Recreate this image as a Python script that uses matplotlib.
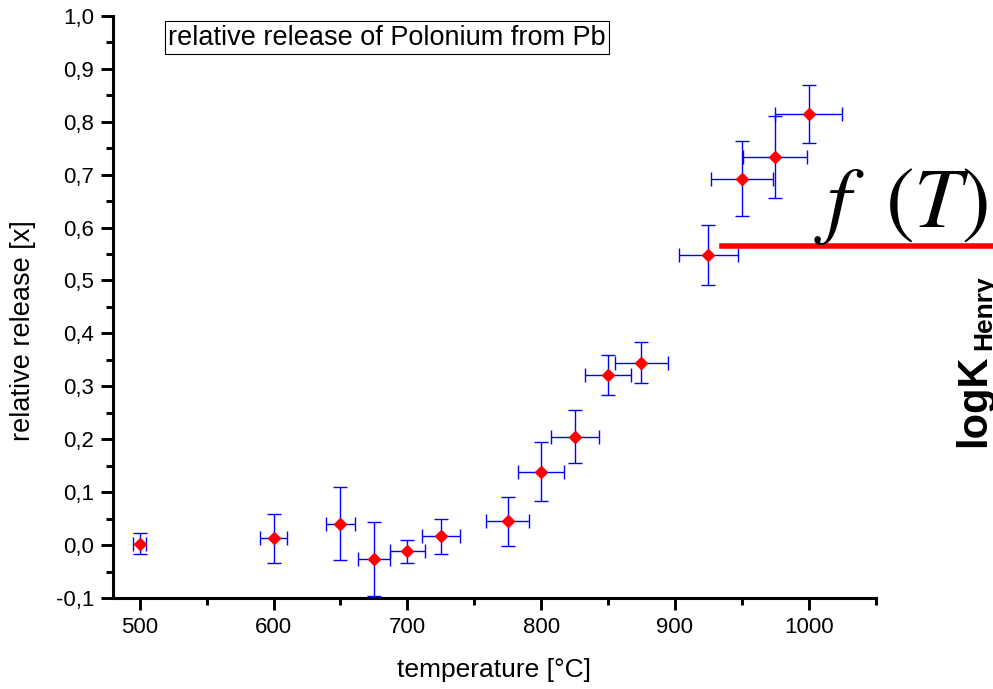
import matplotlib
matplotlib.use("Agg")
import matplotlib.pyplot as plt
from matplotlib.ticker import MultipleLocator, FuncFormatter

# data
temperature = [500, 600, 650, 675, 700, 725, 775, 800, 825, 850, 875, 925, 950, 975, 1000]
release = [0.003, 0.013, 0.040, -0.026, -0.012, 0.017, 0.045, 0.139, 0.205, 0.322, 0.345,
           0.548, 0.692, 0.733, 0.815]
release_err = [0.019, 0.046, 0.069, 0.070, 0.021, 0.033, 0.046, 0.055, 0.050, 0.038, 0.038,
               0.057, 0.071, 0.078, 0.055]
temp_err = [5, 10, 11, 12, 13, 14, 16, 17, 18, 17, 20, 22, 23, 24, 25]

plt.rcParams['font.family'] = ['Liberation Sans', 'DejaVu Sans']
plt.rcParams['mathtext.fontset'] = 'stix'

fig = plt.figure(figsize=(9.93, 6.89), dpi=100)
ax = fig.add_axes([0.1138, 0.132, 0.768, 0.845])

ax.errorbar(temperature, release, yerr=release_err, xerr=temp_err, fmt='none',
            ecolor='#0000ff', elinewidth=1, capsize=5, capthick=1, zorder=2)
ax.plot(temperature, release, 'D', color='#ff0000', markersize=6.5, zorder=3)

ax.set_xlim(480, 1050)
ax.set_ylim(-0.1, 1.0)
ax.xaxis.set_major_locator(MultipleLocator(100))
ax.xaxis.set_minor_locator(MultipleLocator(50))
ax.yaxis.set_major_locator(MultipleLocator(0.1))
ax.yaxis.set_minor_locator(MultipleLocator(0.05))
ax.yaxis.set_major_formatter(FuncFormatter(lambda v, p: ('%.1f' % v).replace('.', ',').replace('-0,0', '0,0')))

for s in ['top', 'right']:
    ax.spines[s].set_visible(False)
for s in ['left', 'bottom']:
    ax.spines[s].set_linewidth(2.2)
ax.tick_params(which='major', direction='out', length=8.5, width=2.1, labelsize=16, pad=5)
ax.tick_params(which='minor', direction='out', length=5, width=2.1)

ax.set_xlabel('temperature [°C]', fontsize=19)
ax.set_ylabel('relative release [x]', fontsize=19.5)
ax.xaxis.set_label_coords(0.5, -0.103)
ax.yaxis.set_label_coords(-0.101, 0.46)

ax.text(0.072, 0.985, 'relative release of Polonium from Pb', transform=ax.transAxes,
        fontsize=19.5, va='top', ha='left',
        bbox=dict(boxstyle='square,pad=0.12', fc='white', ec='black', lw=0.8))

# leftover pasted pieces on the right
fig.add_artist(plt.Line2D([0.727, 1.0], [0.643, 0.643], color='#ff0000', lw=4))
fig.text(0.82, 0.642, r'$f\;\;(T)$', fontsize=62, ha='left', va='bottom')
fig.text(985 / 993, (689 - 447) / 689, 'logK', fontsize=30, fontweight='bold', rotation=90,
         rotation_mode='anchor', ha='left', va='baseline')
fig.text(991 / 993, (689 - 350) / 689, 'Henry', fontsize=19, fontweight='bold', rotation=90,
         rotation_mode='anchor', ha='left', va='baseline')

fig.savefig('out.png', dpi=100)
